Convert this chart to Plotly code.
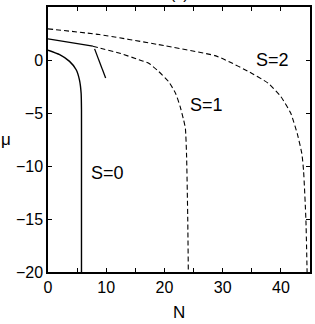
import plotly.graph_objects as go

# --- data ---
s0_N  = [0.0, 2.0, 3.7, 4.84, 5.4, 5.69, 5.75, 5.75, 5.75]
s0_mu = [0.92, 0.5, -0.13, -0.92, -1.87, -3.13, -4.7, -12.0, -20.0]

s1_solid_N  = [0.0, 7.7]
s1_solid_mu = [2.0, 1.3]

branch_N  = [8.0, 9.9]
branch_mu = [1.05, -1.7]

s1_dash_N  = [7.7, 8.8, 12.2, 15.6, 17.3, 19.0, 20.7, 21.9, 22.7, 23.3, 23.6, 23.8, 24.0, 24.1]
s1_dash_mu = [1.3, 1.14, 0.66, 0.03, -0.3, -1.08, -2.03, -3.13, -4.4, -5.67, -6.46, -9.0, -14.85, -20.0]

s2_dash_N  = [0.0, 8.8, 19.0, 28.7, 31.0, 34.4, 37.8, 40.0, 41.7, 42.8, 43.6, 43.9, 44.3, 44.5]
s2_dash_mu = [2.94, 2.4, 1.45, 0.41, -0.13, -1.08, -2.18, -3.46, -5.03, -6.93, -8.83, -10.5, -15.1, -20.0]

x_tickvals = [0, 5, 10, 15, 20, 25, 30, 35, 40, 45]
x_ticktext = ["0", "", "10", "", "20", "", "30", "", "40", ""]
y_tickvals = [5, 0, -5, -10, -15, -20]

labels = ["S=0", "S=1", "S=2"]
label_N = [10.2, 27.2, 38.6]
label_mu = [-10.7, -4.2, 0.0]

FONT = "Liberation Sans, Arial, sans-serif"

fig = go.Figure()
fig.add_trace(go.Scatter(x=s0_N, y=s0_mu, mode="lines",
                         line=dict(color="black", width=1.4, shape="spline", smoothing=0.5)))
fig.add_trace(go.Scatter(x=s1_solid_N, y=s1_solid_mu, mode="lines",
                         line=dict(color="black", width=1.3)))
fig.add_trace(go.Scatter(x=branch_N, y=branch_mu, mode="lines",
                         line=dict(color="black", width=1.3)))
fig.add_trace(go.Scatter(x=s1_dash_N, y=s1_dash_mu, mode="lines",
                         line=dict(color="black", width=1.1, dash="5px,3px", shape="spline", smoothing=0.5)))
fig.add_trace(go.Scatter(x=s2_dash_N, y=s2_dash_mu, mode="lines",
                         line=dict(color="black", width=1.1, dash="5px,3px", shape="spline", smoothing=0.5)))

for t, xx, yy in zip(labels, label_N, label_mu):
    fig.add_annotation(x=xx, y=yy, text=t, showarrow=False,
                       font=dict(size=18, color="black", family=FONT))

# axis titles
fig.add_annotation(xref="paper", yref="paper", x=0.5, y=0, yshift=-29, yanchor="top",
                   text="N", showarrow=False, font=dict(size=17, color="black", family=FONT))
fig.add_annotation(xref="paper", yref="paper", x=0, y=0.5, xshift=-42, xanchor="center",
                   text="μ", showarrow=False, font=dict(size=17, color="black", family=FONT))
# panel title (mostly clipped at top)
fig.add_annotation(xref="paper", yref="paper", x=0.5, y=1, yshift=3, yanchor="bottom",
                   text="(c)", showarrow=False, font=dict(size=16, color="black", family=FONT))

axis_common = dict(showgrid=False, zeroline=False, showline=True, linecolor="black",
                   linewidth=1.5, mirror="ticks", ticks="inside", ticklen=4,
                   tickcolor="black", tickwidth=1,
                   tickfont=dict(size=16, color="black", family=FONT))

fig.update_xaxes(range=[0, 45], tickvals=x_tickvals, ticktext=x_ticktext, **axis_common)
fig.update_yaxes(range=[-20, 5], tickvals=y_tickvals, **axis_common)

fig.update_layout(width=315, height=324, showlegend=False,
                  margin=dict(l=48, r=3, t=7, b=52, pad=0),
                  paper_bgcolor="white", plot_bgcolor="white",
                  font=dict(family=FONT, color="black"))

fig.write_html("out.html", config={"displayModeBar": False},
               post_script="document.body.style.margin='0';document.body.style.overflow='hidden';")
